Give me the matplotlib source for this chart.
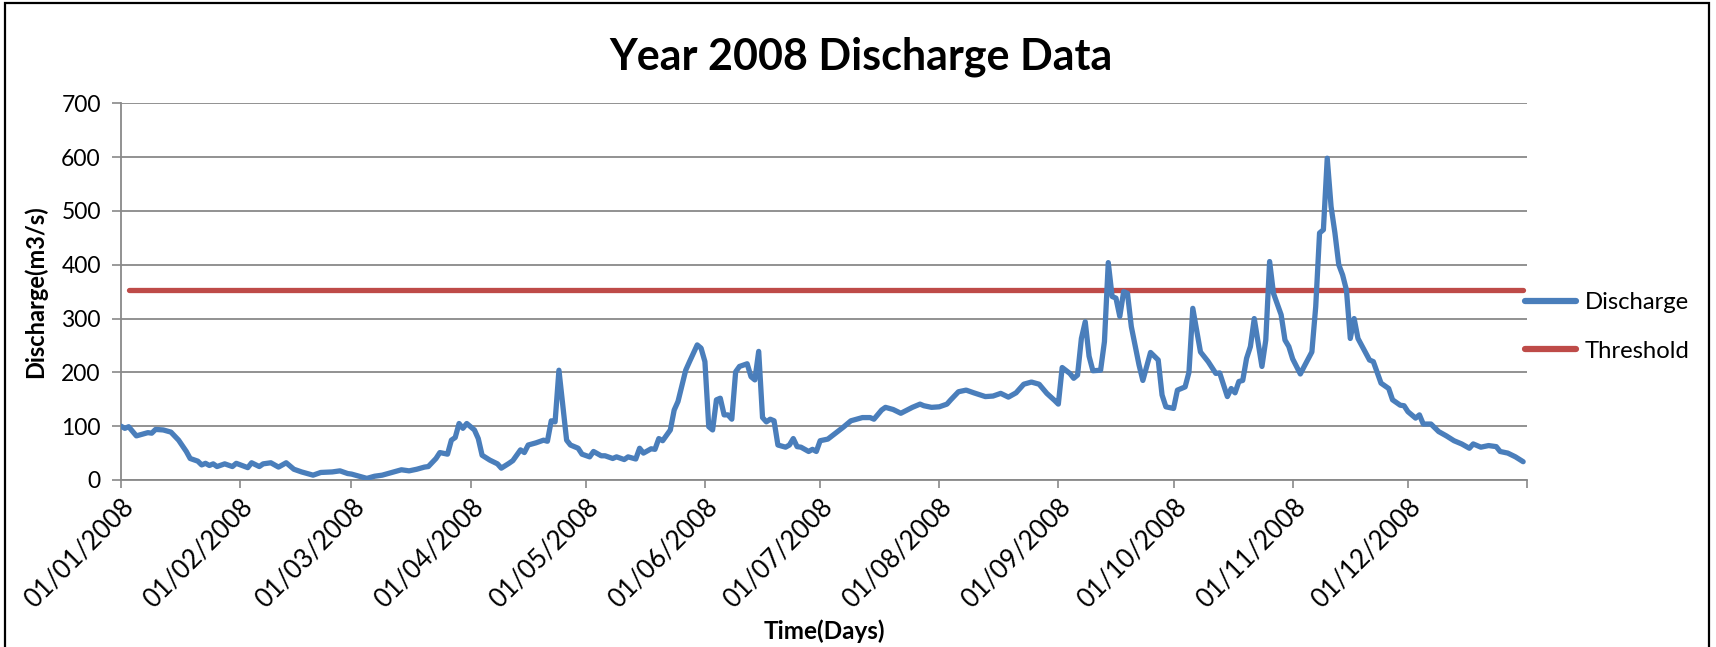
import matplotlib
matplotlib.use("Agg")
import matplotlib.pyplot as plt
from matplotlib.patches import Rectangle
from matplotlib.lines import Line2D
import pandas as pd

plt.rcParams['font.family'] = ['Lato', 'DejaVu Sans']

# ---------------- data ----------------
title = "Year 2008 Discharge Data"
x_label = "Time(Days)"
y_label = "Discharge(m3/s)"
series_names = ["Discharge", "Threshold"]
start_date = "2008-01-01"

# days since 01/01/2008 and discharge (m3/s)
day_offsets = [
    0, 1, 2, 4, 7, 8, 9, 11, 13, 15, 17, 18, 20, 21, 22, 23, 24, 25, 27, 29,
    30, 33, 34, 36, 37, 39, 41, 43, 45, 47, 50, 52, 55, 57, 59, 60, 62, 64, 66, 68,
    71, 73, 75, 77, 79, 80, 82, 83, 85, 86, 87, 88, 89, 90, 92, 93, 94, 96, 98, 99,
    101, 102, 104, 105, 106, 108, 110, 111, 112, 113, 114, 116, 117, 119, 120, 122, 123, 125, 126, 128,
    129, 131, 132, 134, 135, 136, 138, 139, 140, 141, 143, 144, 145, 147, 148, 150, 151, 152, 153, 154,
    155, 156, 157, 158, 159, 160, 161, 163, 164, 165, 166, 167, 168, 169, 170, 171, 173, 174, 175, 176,
    177, 179, 180, 181, 182, 184, 186, 188, 190, 193, 195, 196, 198, 199, 201, 203, 206, 208, 209, 211,
    213, 215, 216, 218, 220, 222, 225, 227, 229, 231, 233, 235, 237, 239, 241, 243, 244, 245, 247, 248,
    249, 250, 251, 252, 253, 255, 256, 257, 258, 259, 260, 261, 262, 263, 265, 266, 268, 270, 271, 272,
    274, 275, 277, 278, 279, 281, 283, 285, 286, 288, 289, 290, 291, 292, 293, 294, 295, 297, 298, 299,
    300, 302, 303, 304, 305, 307, 308, 310, 311, 312, 313, 314, 315, 316, 317, 318, 319, 320, 321, 322,
    325, 326, 328, 330, 331, 333, 334, 335, 337, 338, 339, 341, 343, 345, 347, 349, 351, 352, 354, 356,
    358, 359, 361, 363, 365,
]
discharge = [
    100, 96, 99, 82, 88, 87, 94, 93, 89, 74, 53, 40, 35, 28, 31, 27, 30, 25, 30, 25,
    31, 23, 32, 25, 30, 32, 24, 32, 20, 15, 9, 14, 15, 17, 12, 11, 7, 3, 7, 9,
    15, 19, 17, 20, 24, 25, 40, 51, 48, 74, 79, 105, 96, 105, 93, 77, 46, 37, 30, 22,
    31, 36, 56, 51, 65, 69, 74, 72, 110, 108, 204, 74, 65, 59, 48, 43, 53, 45, 45, 40,
    43, 38, 43, 39, 59, 50, 58, 57, 77, 73, 93, 130, 146, 204, 220, 251, 245, 220, 99, 93,
    149, 152, 121, 121, 113, 201, 211, 216, 192, 186, 239, 116, 108, 113, 110, 65, 61, 65, 77, 62,
    61, 53, 57, 53, 73, 76, 87, 98, 110, 116, 116, 113, 130, 135, 131, 124, 135, 141, 138, 135,
    136, 141, 149, 164, 167, 162, 155, 156, 161, 154, 162, 178, 182, 178, 161, 148, 141, 209, 198, 189,
    195, 263, 294, 230, 203, 204, 257, 404, 341, 338, 304, 350, 347, 285, 214, 185, 237, 223, 158, 136,
    133, 167, 173, 200, 319, 238, 220, 198, 199, 155, 170, 162, 183, 185, 226, 248, 300, 211, 260, 406,
    347, 307, 260, 248, 225, 197, 211, 238, 322, 459, 465, 598, 508, 459, 400, 381, 353, 263, 300, 263,
    223, 220, 180, 170, 149, 139, 138, 127, 115, 121, 104, 104, 90, 82, 73, 67, 59, 67, 61, 64,
    62, 53, 50, 43, 34,
]

threshold_days = [2, 365]
threshold_values = [353, 353]

tick_dates = ["2008-01-01", "2008-02-01", "2008-03-01", "2008-04-01", "2008-05-01",
              "2008-06-01", "2008-07-01", "2008-08-01", "2008-09-01", "2008-10-01",
              "2008-11-01", "2008-12-01", "2009-01-01"]
tick_labels = ["01/01/2008", "01/02/2008", "01/03/2008", "01/04/2008", "01/05/2008",
               "01/06/2008", "01/07/2008", "01/08/2008", "01/09/2008", "01/10/2008",
               "01/11/2008", "01/12/2008", ""]
y_ticks = [0, 100, 200, 300, 400, 500, 600, 700]

# ---------------- plot ----------------
W, H = 1716, 647
fig = plt.figure(figsize=(W / 100, H / 100), dpi=100)
fig.patch.set_facecolor("white")

left, right, top, bottom = 121, 1527, 103.3, 480
ax = fig.add_axes([left / W, 1 - bottom / H, (right - left) / W, (bottom - top) / H])

t0 = pd.Timestamp(start_date)
dates = t0 + pd.to_timedelta(day_offsets, unit="D")
th_dates = t0 + pd.to_timedelta(threshold_days, unit="D")

blue = "#4A7EBB"
red = "#BE4B48"
grid_c = "#898989"

ax.plot(dates, discharge, color=blue, lw=3.8, solid_capstyle="round",
        solid_joinstyle="round", zorder=3)
ax.plot(th_dates, threshold_values, color=red, lw=3.8, solid_capstyle="round", zorder=2)

ax.set_xlim(pd.Timestamp(tick_dates[0]), pd.Timestamp(tick_dates[-1]))
ax.set_ylim(0, 700)
ax.set_yticks(y_ticks)
ax.set_xticks(pd.to_datetime(tick_dates))
ax.set_xticklabels(tick_labels, rotation=45, ha="right", va="top",
                   rotation_mode="anchor", fontsize=18.5)
ax.tick_params(axis="x", length=6, width=1.2, color=grid_c, pad=4)
ax.tick_params(axis="y", length=6.5, width=1.2, color=grid_c, labelsize=16.5, pad=8)

ax.yaxis.grid(True, color=grid_c, lw=1.3)
ax.set_axisbelow(True)
for s in ["top", "right"]:
    ax.spines[s].set_visible(False)
for s in ["left", "bottom"]:
    ax.spines[s].set_color(grid_c)
    ax.spines[s].set_linewidth(1.3)

fig.text(861 / W, 1 - 57 / H, title, ha="center", va="center",
         fontsize=31, fontweight="bold")
fig.text(35 / W, 1 - 292 / H, y_label, ha="center", va="center",
         rotation=90, fontsize=17, fontweight="bold")
fig.text(824 / W, 1 - 631 / H, x_label, ha="center", va="center",
         fontsize=17.5, fontweight="bold")

handles = [Line2D([], [], color=blue, lw=4.5, solid_capstyle="round"),
           Line2D([], [], color=red, lw=4.5, solid_capstyle="round")]
fig.legend(handles, series_names, loc="center left",
           bbox_to_anchor=(1525 / W, 1 - 327 / H), bbox_transform=fig.transFigure,
           frameon=False, fontsize=17.2, handlelength=2.15, handletextpad=0.35,
           labelspacing=1.15, borderpad=0, borderaxespad=0)

fig.patches.append(Rectangle((5 / W, -0.1), (1709 - 5) / W, 1.1 - 3 / H,
                             transform=fig.transFigure, fill=False,
                             edgecolor="black", lw=1.6))

fig.savefig("out.png", dpi=100)
